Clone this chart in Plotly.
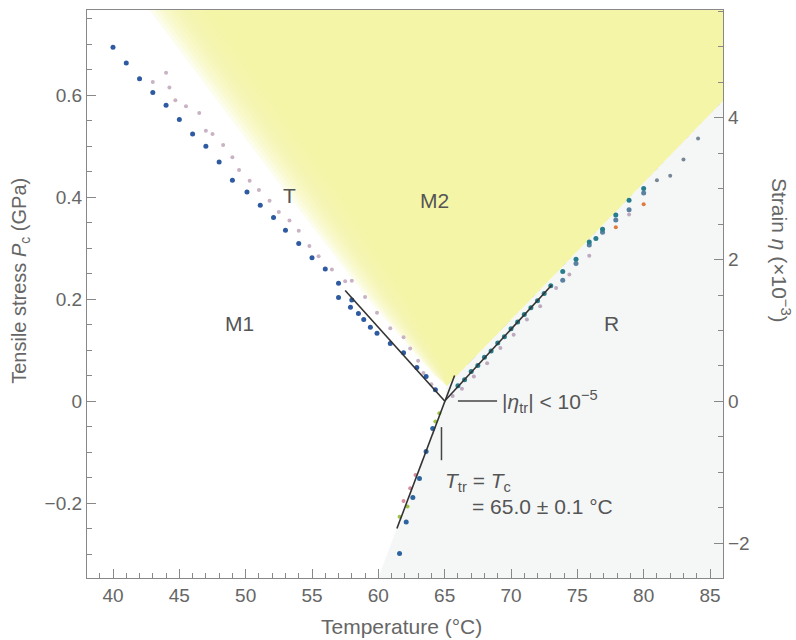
import plotly.graph_objects as go

# ---- data: phase-boundary stress P_c (GPa) vs temperature (°C) ----
# M1 / T boundary (blue)
t_m1 = [40.0, 41.0, 42.0, 43.0, 44.0, 45.0, 46.0, 47.0, 48.0, 49.0, 50.1, 51.1, 52.1,
        53.0, 54.0, 55.0, 56.0, 57.0, 57.0, 58.0, 57.9, 58.5, 58.9, 59.4, 59.9, 60.9,
        61.9, 62.9, 63.6, 64.3]
p_m1 = [0.694, 0.663, 0.632, 0.605, 0.580, 0.552, 0.524, 0.500, 0.469, 0.433, 0.410,
        0.384, 0.360, 0.335, 0.309, 0.281, 0.259, 0.231, 0.203, 0.198, 0.184, 0.172,
        0.160, 0.145, 0.133, 0.113, 0.095, 0.066, 0.048, 0.022]

# T / M2 boundary (light)
t_t = [43.0, 44.0, 44.25, 44.7, 45.5, 46.5, 47.0, 47.5, 48.3, 49.0, 49.5, 50.3, 51.0,
       51.8, 52.5, 53.3, 54.0, 54.8, 55.5, 56.5, 57.5, 58.0, 59.0, 59.9, 60.9, 61.9,
       62.4, 63.0, 63.4, 64.0]
p_t = [0.626, 0.644, 0.615, 0.590, 0.578, 0.565, 0.530, 0.524, 0.502, 0.478, 0.453,
       0.432, 0.414, 0.393, 0.371, 0.354, 0.334, 0.304, 0.284, 0.258, 0.235, 0.236,
       0.204, 0.173, 0.143, 0.125, 0.103, 0.079, 0.055, 0.033]

# R / M2 boundary (teal)
t_r = [66.0, 66.5, 67.0, 67.5, 68.0, 68.5, 69.0, 69.5, 70.0, 70.5, 71.0, 71.5, 72.0,
       72.5, 73.0, 73.9, 74.9, 75.9, 76.4, 76.9, 77.9, 78.9, 80.0]
p_r = [0.030, 0.042, 0.058, 0.070, 0.086, 0.098, 0.114, 0.126, 0.142, 0.155, 0.170,
       0.183, 0.197, 0.211, 0.226, 0.254, 0.278, 0.312, 0.319, 0.337, 0.365, 0.394, 0.417]

t_r2 = [73.9, 74.9, 75.9, 76.9, 77.9, 78.9, 80.0]
p_r2 = [0.237, 0.270, 0.306, 0.331, 0.355, 0.375, 0.408]

t_r3 = [81.0, 82.0, 83.0, 84.1]
p_r3 = [0.433, 0.442, 0.474, 0.515]

t_r_light = [65.6, 66.3, 67.2, 68.2, 69.2, 70.2, 71.2, 72.2, 73.4, 74.4, 75.9, 78.9]
p_r_light = [0.010, 0.024, 0.048, 0.074, 0.104, 0.130, 0.160, 0.186, 0.222, 0.248,
             0.285, 0.366]

t_r_orange = [77.9, 80.0]
p_r_orange = [0.341, 0.386]

# transition line below zero stress (compressive side)
t_low_blue = [64.1, 63.6, 63.1, 62.6, 62.1, 61.6]
p_low_blue = [-0.054, -0.099, -0.152, -0.189, -0.237, -0.299]
t_low_pink = [62.8, 62.4, 61.9]
p_low_pink = [-0.145, -0.171, -0.196]
t_low_green = [64.6, 64.3, 62.2, 61.6]
p_low_green = [-0.024, -0.040, -0.207, -0.227]

# fitted boundary lines
fit_m1_t = [57.5, 65.0]
fit_m1_p = [0.217, 0.0]
fit_r_t = [65.0, 73.06]
fit_r_p = [0.0, 0.227]
fit_low_t = [61.4, 65.75]
fit_low_p = [-0.25, 0.05]

# M2 (yellow) region outline: soft outer and solid inner left edges
m2_outer_t = [41.8, 53.3, 59.2, 64.2]
m2_outer_p = [0.80, 0.40, 0.20, 0.05]
m2_inner_t = [46.6, 57.6, 62.4, 65.1]
m2_inner_p = [0.80, 0.40, 0.20, 0.06]
m2_vertex = (65.15, 0.03)
m2_right_t = [86.0, 90.0]
m2_right_p = [0.59, 0.70]

x_range = [38.04, 85.98]
y_range = [-0.347, 0.767]
y2_range = [-2.49, 5.52]

y_ticks = [-0.2, 0.0, 0.2, 0.4, 0.6]
y_ticktext = ["−0.2", "0", "0.2", "0.4", "0.6"]

GREY = "#666666"
FONT = "Liberation Sans, Arial, Helvetica, sans-serif"

fig = go.Figure()

# ---- background regions ----
shapes = []
# R phase: faint grey tint right of the R and compressive boundaries
r_poly = [(m2_vertex[0], m2_vertex[1]), (m2_right_t[1], m2_right_p[1]), (90, -0.5),
          (fit_low_t[0] - (fit_low_p[0] + 0.5) / 0.069, -0.5), (65.0, 0.0)]
path = "M " + " L ".join(f"{a},{b}" for a, b in r_poly) + " Z"
shapes.append(dict(type="path", path=path, xref="x", yref="y", layer="below",
                   fillcolor="rgb(245,247,247)", line=dict(width=0)))

# M2 phase: yellow wedge built from stacked translucent layers for a soft left edge
n_layers = 14
for k in range(n_layers):
    f = k / (n_layers - 1)
    left = [(o + (i - o) * f, po + (pi - po) * f)
            for o, i, po, pi in zip(m2_outer_t, m2_inner_t, m2_outer_p, m2_inner_p)]
    pts = left + [m2_vertex, (m2_right_t[0], m2_right_p[0]), (m2_right_t[1], m2_right_p[1]),
                  (90, 0.8)]
    path = "M " + " L ".join(f"{a},{b}" for a, b in pts) + " Z"
    shapes.append(dict(type="path", path=path, xref="x", yref="y", layer="below",
                       fillcolor="rgba(244,247,165,0.2)", line=dict(width=0)))

# annotation pointer bars
shapes.append(dict(type="line", xref="x", yref="y", x0=66.0, x1=68.95, y0=0.0, y1=0.0,
                   line=dict(color="#444444", width=1.5)))
shapes.append(dict(type="line", xref="x", yref="y", x0=64.76, x1=64.76, y0=-0.051, y1=-0.116,
                   line=dict(color="#444444", width=1.5)))


def dots(x, y, color, size, name):
    fig.add_trace(go.Scatter(x=x, y=y, mode="markers", name=name,
                             marker=dict(color=color, size=size, line=dict(width=0)),
                             showlegend=False))


dots(t_t, p_t, "rgb(200,178,196)", 4, "T boundary")
dots(t_r_light, p_r_light, "rgb(190,170,190)", 4, "R light")
dots(t_low_pink, p_low_pink, "rgb(215,140,160)", 4, "low pink")
dots(t_low_green, p_low_green, "rgb(160,195,70)", 4, "low green")
dots(t_m1, p_m1, "rgb(45,90,160)", 5, "M1 boundary")
dots(t_r2, p_r2, "rgb(90,130,160)", 5, "R boundary 2")
dots(t_r3, p_r3, "rgb(120,135,150)", 4, "R boundary 3")
dots(t_r, p_r, "rgb(40,125,140)", 5, "R boundary")
dots(t_r_orange, p_r_orange, "rgb(225,120,60)", 4, "R orange")
dots(t_low_blue, p_low_blue, "rgb(45,100,160)", 5, "low blue")

for xs, ys in [(fit_m1_t, fit_m1_p), (fit_r_t, fit_r_p), (fit_low_t, fit_low_p)]:
    fig.add_trace(go.Scatter(x=xs, y=ys, mode="lines", showlegend=False,
                             line=dict(color="#333333", width=1.6)))

# strain axis carrier
fig.add_trace(go.Scatter(x=[x_range[0]], y=[0], yaxis="y2", mode="markers",
                         marker=dict(opacity=0), showlegend=False, hoverinfo="skip"))

label_font = dict(family=FONT, size=21, color="#555555")
annotations = [
    dict(x=53.34, y=0.404, text="T", showarrow=False, font=label_font),
    dict(x=64.27, y=0.394, text="M2", showarrow=False, font=label_font),
    dict(x=49.57, y=0.153, text="M1", showarrow=False, font=label_font),
    dict(x=77.6, y=0.153, text="R", showarrow=False, font=label_font),
    dict(x=69.2, y=0.0, xanchor="left", align="left", showarrow=False, font=label_font,
         text="|<i>η</i><sub>tr</sub>| < 10<sup>−5</sup>"),
    dict(x=64.85, y=-0.159, xanchor="left", align="left", showarrow=False, font=label_font,
         text="<i>T</i><sub>tr</sub> = <i>T</i><sub>c</sub>"),
    dict(x=66.9, y=-0.206, xanchor="left", align="left", showarrow=False, font=label_font,
         text="= 65.0 ± 0.1 °C"),
    # axis titles
    dict(xref="paper", yref="paper", x=-0.104, y=0.523, xanchor="center", yanchor="middle",
         textangle=-90, showarrow=False, font=dict(family=FONT, size=20, color=GREY),
         text="Tensile stress <i>P</i><sub>c</sub> (GPa)"),
    dict(xref="paper", yref="paper", x=1.09, y=0.577, xanchor="center", yanchor="middle",
         textangle=90, showarrow=False, font=dict(family=FONT, size=21, color=GREY),
         text="Strain <i>η</i> (×10<sup>−3</sup>)"),
    dict(xref="paper", yref="paper", x=0.495, y=-0.086, xanchor="center", yanchor="middle",
         showarrow=False, font=dict(family=FONT, size=21, color=GREY),
         text="Temperature (°C)"),
]

axis_common = dict(showline=True, linecolor="#888888", linewidth=1.2, ticks="inside",
                   tickcolor="#888888", ticklen=9, tickwidth=1.2, showgrid=False,
                   zeroline=False, tickfont=dict(family=FONT, size=19, color=GREY))

fig.update_layout(
    width=796, height=640,
    margin=dict(l=87, r=73, t=10, b=62),
    paper_bgcolor="white", plot_bgcolor="white",
    shapes=shapes, annotations=annotations,
    xaxis=dict(range=x_range, dtick=5, tick0=40, mirror=True,
               minor=dict(dtick=1, ticklen=5, ticks="inside", tickcolor="#888888"),
               **axis_common),
    yaxis=dict(range=y_range, tickmode="array", tickvals=y_ticks, ticktext=y_ticktext,
               minor=dict(dtick=0.05, tick0=0, ticklen=5, ticks="inside",
                          tickcolor="#888888"),
               **axis_common),
    yaxis2=dict(range=y2_range, dtick=2, tick0=0, overlaying="y", side="right",
                minor=dict(dtick=0.5, ticklen=5, ticks="inside", tickcolor="#888888"),
                **axis_common),
)

fig.write_html("out.html")
